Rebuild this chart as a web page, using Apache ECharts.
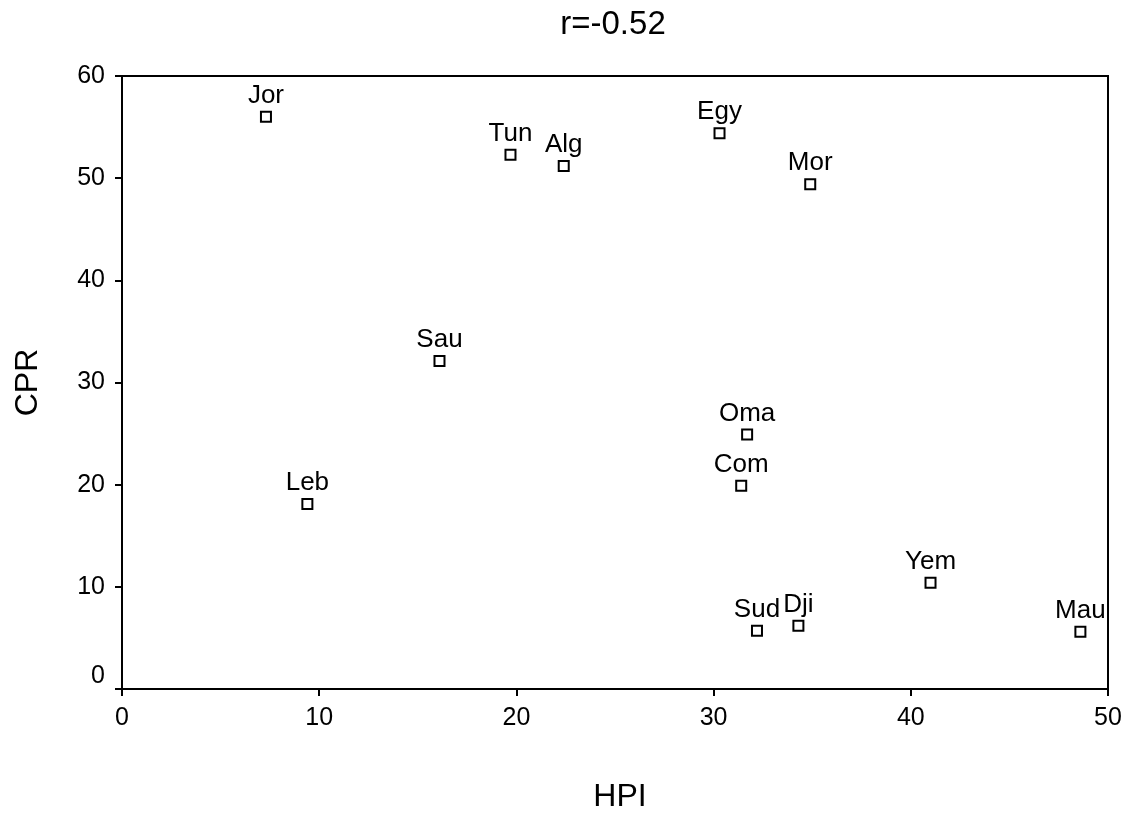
<!DOCTYPE html>
<html>
<head>
<meta charset="utf-8">
<script src="https://cdn.jsdelivr.net/npm/echarts@6/dist/echarts.min.js"></script>
<style>
  html, body { margin: 0; padding: 0; background: #fff; }
  #main { width: 1130px; height: 818px; }
</style>
</head>
<body>
<div id="main"></div>
<script>
// countries, HPI (x) and CPR (y)
var countries = ['Jor', 'Tun', 'Alg', 'Egy', 'Mor', 'Sau', 'Oma', 'Com', 'Leb', 'Yem', 'Sud', 'Dji', 'Mau'];
var hpi = [7.3, 19.7, 22.4, 30.3, 34.9, 16.1, 31.7, 31.4, 9.4, 41.0, 32.2, 34.3, 48.6];
var cpr = [56.0, 52.3, 51.2, 54.4, 49.4, 32.1, 24.9, 19.9, 18.1, 10.4, 5.7, 6.2, 5.6];

var points = [];
for (var i = 0; i < countries.length; i++) {
    points.push([hpi[i], cpr[i], countries[i]]);
}

var font = 'Liberation Sans, Arial, sans-serif';
var chart = echarts.init(document.getElementById('main'));

chart.setOption({
    animation: false,
    backgroundColor: '#fff',
    title: {
        text: 'r=-0.52',
        left: 608, top: 3, textAlign: 'center',
        textStyle: { fontFamily: font, fontSize: 33, fontWeight: 'normal', color: '#000' }
    },
    grid: {
        left: 122, right: 22, top: 76, bottom: 129,
        show: true, borderColor: '#000', borderWidth: 2
    },
    xAxis: {
        type: 'value', min: 0, max: 50, interval: 10,
        name: 'HPI', nameLocation: 'middle', nameGap: 92,
        nameTextStyle: { fontFamily: font, fontSize: 32, color: '#000', padding: [0, 0, 0, 10] },
        axisLine: { lineStyle: { color: '#000', width: 2 } },
        axisTick: { show: true, length: 7, lineStyle: { color: '#000', width: 2 } },
        axisLabel: { fontFamily: font, fontSize: 25, color: '#000', margin: 17 },
        splitLine: { show: false }
    },
    yAxis: {
        type: 'value', min: 0, max: 60, interval: 10,
        name: 'CPR', nameLocation: 'middle', nameGap: 78,
        nameTextStyle: { fontFamily: font, fontSize: 32, color: '#000' },
        axisLine: { show: true, lineStyle: { color: '#000', width: 2 } },
        axisTick: { show: true, length: 7, lineStyle: { color: '#000', width: 2 } },
        axisLabel: {
            fontFamily: font, fontSize: 25, color: '#000', margin: 17,
            // the 0 label sits a little higher in the original
            formatter: function (v) { return v === 0 ? '{z|0}' : String(v); },
            rich: { z: { fontFamily: font, fontSize: 25, color: '#000', padding: [0, 0, 26, 0] } }
        },
        splitLine: { show: false }
    },
    series: [{
        type: 'scatter',
        data: points,
        symbol: 'rect',
        symbolSize: 10,
        itemStyle: { color: '#fff', borderColor: '#000', borderWidth: 2, opacity: 1 },
        label: {
            show: true, position: 'top', distance: 2,
            formatter: function (p) { return p.data[2]; },
            fontFamily: font, fontSize: 26, color: '#000'
        }
    }]
});
</script>
</body>
</html>
